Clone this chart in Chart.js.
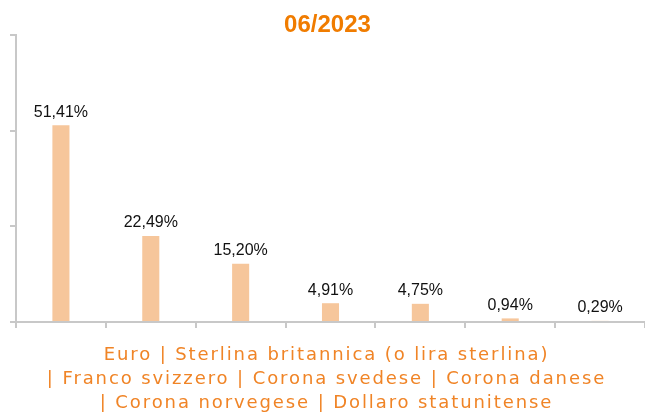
<!DOCTYPE html>
<html>
<head>
<meta charset="utf-8">
<script src="https://cdn.jsdelivr.net/npm/chart.js@4/dist/chart.umd.min.js"></script>
<style>
    html, body { margin: 0; padding: 0; background: #ffffff; }
    #wrap { width: 645px; height: 412px; }
</style>
</head>
<body>
<div id="wrap"><canvas id="chartValute"></canvas></div>
<script>
// Composizione per valuta - 06/2023
const valute = ['Euro', 'Sterlina britannica (o lira sterlina)', 'Franco svizzero', 'Corona svedese', 'Corona danese', 'Corona norvegese', 'Dollaro statunitense'];
const quote = [51.41, 22.49, 15.20, 4.91, 4.75, 0.94, 0.29];
const titoloAsseX = [
    'Euro | Sterlina britannica (o lira sterlina)',
    '| Franco svizzero | Corona svedese | Corona danese',
    '| Corona norvegese | Dollaro statunitense',
];

const arancio = '#f07c00';
const arancioChiaro = '#f08426';
const grigio = '#c8c8c8';
const fontAsse = { family: '"DejaVu Sans", Verdana, sans-serif', size: 18, lineHeight: 24 / 18 };
const padAsse = { top: 15, bottom: -3 };

// etichette percentuali sopra le barre
const valueLabels = {
    id: 'valueLabels',
    afterDatasetsDraw(chart) {
        const ctx = chart.ctx;
        const meta = chart.getDatasetMeta(0);
        ctx.save();
        ctx.font = '16px "Liberation Sans", Arial, sans-serif';
        ctx.fillStyle = '#111111';
        ctx.textAlign = 'center';
        ctx.textBaseline = 'middle';
        meta.data.forEach((bar, i) => {
            const txt = quote[i].toFixed(2).replace('.', ',') + '%';
            ctx.fillText(txt, bar.x, bar.y - 13);
        });
        ctx.restore();
    },
};

// titolo asse x spaziato (Chart.js non gestisce letterSpacing): lo spazio e' riservato dal titolo trasparente
const spacedAxisTitle = {
    id: 'spacedAxisTitle',
    afterDraw(chart) {
        const ctx = chart.ctx;
        const x = chart.scales.x;
        const lh = fontAsse.size * fontAsse.lineHeight;
        const cx = (x.left + x.right) / 2 - 4;
        let y = x.bottom - lh / 2 - padAsse.bottom - lh * (titoloAsseX.length - 1);
        ctx.save();
        ctx.font = fontAsse.size + 'px ' + fontAsse.family;
        ctx.letterSpacing = '1.9px';
        ctx.fillStyle = arancioChiaro;
        ctx.textAlign = 'center';
        ctx.textBaseline = 'middle';
        titoloAsseX.forEach(line => {
            ctx.fillText(line, cx, y);
            y += lh;
        });
        ctx.restore();
    },
};

const ctx = document.getElementById('chartValute').getContext('2d');
new Chart(ctx, {
    type: 'bar',
    data: {
        labels: valute,
        datasets: [{
            data: quote,
            backgroundColor: '#f6c69b',
            borderWidth: 0,
            barPercentage: 0.19,
            categoryPercentage: 1,
        }],
    },
    options: {
        responsive: true,
        maintainAspectRatio: false,
        animation: false,
        layout: { padding: { left: 10, right: 0, top: 0, bottom: 0 } },
        plugins: {
            legend: { display: false },
            tooltip: { enabled: false },
            title: {
                display: true,
                text: '06/2023',
                color: arancio,
                font: { family: '"Liberation Sans", Arial, sans-serif', size: 24, weight: 'bold', lineHeight: 1 },
                padding: { top: 13, bottom: -2 },
            },
        },
        scales: {
            x: {
                offset: true,
                border: { color: grigio, width: 2 },
                grid: { display: true, drawOnChartArea: false, drawTicks: true, tickLength: 6, color: grigio, lineWidth: 2, offset: true },
                ticks: { display: false },
                title: {
                    display: true,
                    text: titoloAsseX,
                    color: 'rgba(0,0,0,0)',
                    font: fontAsse,
                    padding: padAsse,
                },
            },
            y: {
                min: 0,
                max: 75,
                border: { color: grigio, width: 2 },
                grid: { display: true, drawOnChartArea: false, drawTicks: true, tickLength: 6, color: grigio, lineWidth: 2 },
                ticks: { display: false, stepSize: 25 },
            },
        },
    },
    plugins: [valueLabels, spacedAxisTitle],
});
</script>
</body>
</html>
